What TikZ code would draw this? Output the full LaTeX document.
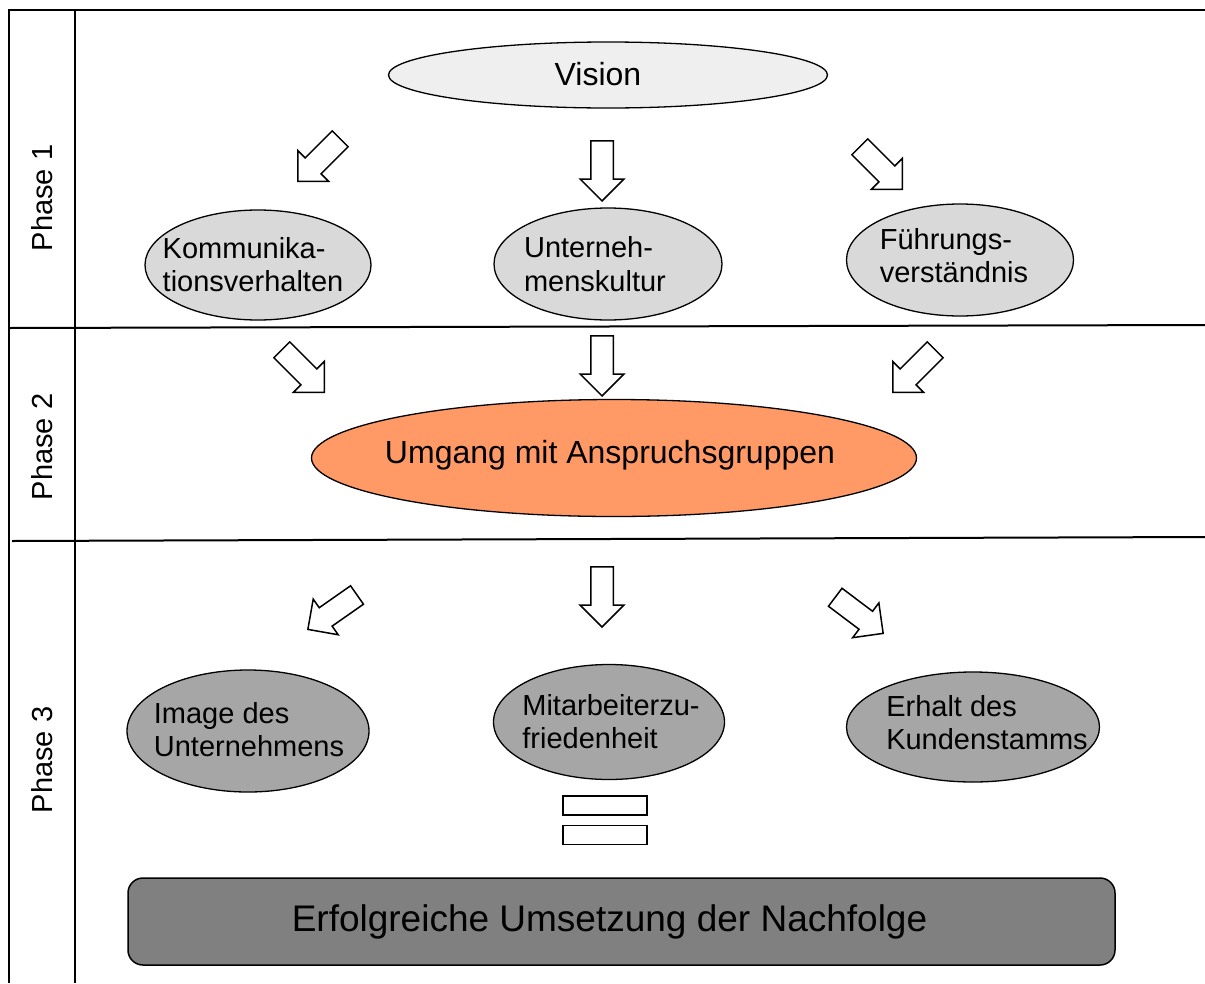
\documentclass[tikz,border=0pt]{standalone}
\usepackage{fontspec}
\setmainfont{Liberation Sans}
\usetikzlibrary{shapes.geometric,shapes.arrows,positioning}
\definecolor{visiongray}{HTML}{EFEFEF}
\definecolor{lightgray}{HTML}{D9D9D9}
\definecolor{midgray}{HTML}{A6A6A6}
\definecolor{darkgray}{HTML}{808080}
\definecolor{salmon}{HTML}{FF9966}
\newcommand{\ovaltext}[3]{\makebox[0pt]{\kern#1\smash{\raisebox{#2}{\begin{tabular}[c]{@{}l@{}}#3\end{tabular}}}\kern-#1}}

\begin{document}
\begin{tikzpicture}[x=1pt,y=-1pt,
  oval/.style={ellipse, draw, line width=1.3pt, inner sep=0pt,
    font=\fontsize{29}{33.5}\selectfont},
  blockarrow/.style={single arrow, draw, line width=1.5pt, fill=white, inner xsep=0pt,
    inner ysep=10.5pt, minimum height=60pt, single arrow head extend=10.5pt,
    single arrow tip angle=90, anchor=tip},
  phase/.style={rotate=90, font=\fontsize{29}{33}\selectfont},
  bar/.style={draw, line width=1.3pt, minimum width=84pt, minimum height=19pt, inner sep=0pt}]
   \useasboundingbox (0,0) rectangle (1205,983);

   \draw[line width=2pt] (1205,10) -- (9,10) -- (9,983);
   \draw[line width=2pt] (75,10) -- (75,983);
   \draw[line width=2pt] (9,328) -- (1205,325);
   \draw[line width=2pt] (12,541) -- (1205,537);

   \node[phase] (ph1) at (42,198) {Phase 1};
   \node[phase] (ph2) at (42,447) {Phase 2};
   \node[phase] (ph3) at (42,760) {Phase 3};

   \node[oval, fill=visiongray, minimum width=439pt, minimum height=66pt,
     font=\fontsize{32}{36}\selectfont] (vision) at (608,75) {\ovaltext{-10pt}{-9.5pt}{Vision}};

   \node[oval, fill=lightgray, minimum width=226pt, minimum height=110pt] (komm) at (258,265) {\ovaltext{-5pt}{-9.5pt}{Kommunika-\\tionsverhalten}};
   \node[oval, fill=lightgray, minimum width=228pt, minimum height=112pt] (kultur) at (608,264) {\ovaltext{-13pt}{-10pt}{Unterneh-\\menskultur}};
   \node[oval, fill=lightgray, minimum width=227pt, minimum height=112pt] (fuehrung) at (960,260) {\ovaltext{-6pt}{-5.5pt}{Führungs-\\verständnis}};

   \node[oval, fill=salmon, minimum width=605pt, minimum height=117pt,
     font=\fontsize{32}{36}\selectfont] (umgang) at (614,458) {\ovaltext{-4pt}{-4.5pt}{Umgang mit Anspruchsgruppen}};

   \node[oval, fill=midgray, minimum width=242pt, minimum height=122pt] (image) at (248,731) {\ovaltext{1pt}{-8.5pt}{Image des\\Unternehmens}};
   \node[oval, fill=midgray, minimum width=231pt, minimum height=115pt] (mitarbeiter) at (609,722) {\ovaltext{2pt}{-9.5pt}{Mitarbeiterzu-\\friedenheit}};
   \node[oval, fill=midgray, minimum width=253pt, minimum height=110pt] (kunden) at (973,727) {\ovaltext{14pt}{-5.5pt}{Erhalt des\\Kundenstamms}};

   \node[blockarrow, rotate=225] (a1) at (297,182) {};
   \node[blockarrow, rotate=-90] (a2) at (602,202) {};
   \node[blockarrow, rotate=-45] (a3) at (903,190) {};

   \node[blockarrow, rotate=-45] (a4) at (325,393) {};
   \node[blockarrow, rotate=-90] (a5) at (602,397) {};
   \node[blockarrow, rotate=225] (a6) at (892,393) {};

   \node[blockarrow, rotate=215] (a7) at (307,630) {};
   \node[blockarrow, rotate=-90] (a8) at (602,628) {};
   \node[blockarrow, rotate=-37] (a9) at (884,634) {};

   \node[bar] (eq1) at (605,805.5) {};
   \node[bar, below=9pt of eq1] (eq2) {};

   \node[draw, line width=1.5pt, fill=darkgray, rounded corners=15pt, minimum width=987pt,
     minimum height=87pt, font=\fontsize{37}{42}\selectfont] (erfolg) at (621.5,921.5) {\makebox[0pt]{\kern-12pt Erfolgreiche Umsetzung der Nachfolge\kern12pt}};
\end{tikzpicture}
\end{document}
